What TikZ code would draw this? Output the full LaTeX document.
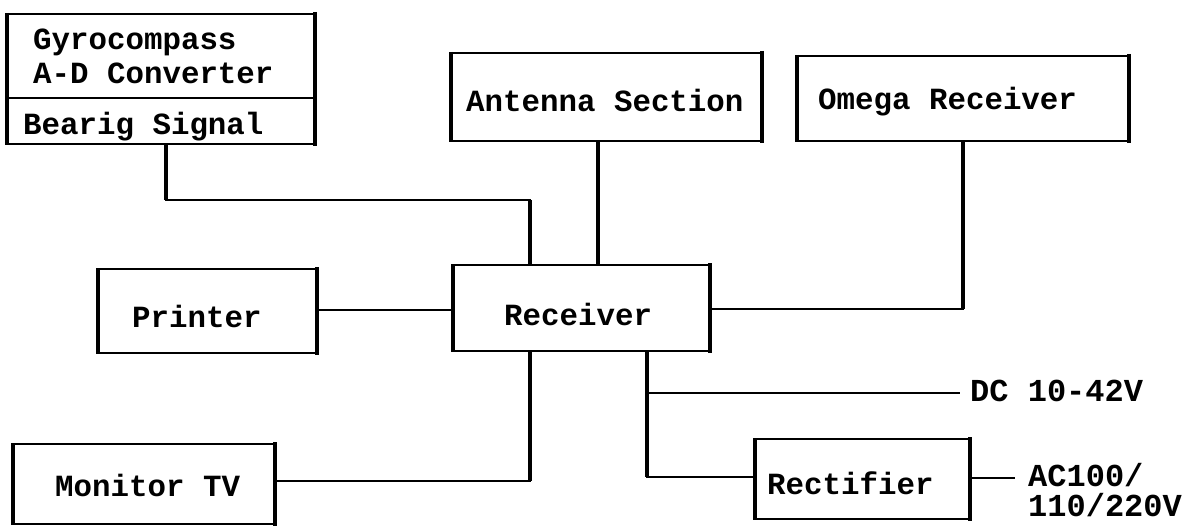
\documentclass[tikz,border=0pt]{standalone}
\usepackage{fontspec}
\setmonofont{Liberation Mono}
\usetikzlibrary{calc}
\begin{document}
\begin{tikzpicture}[x=1pt,y=-1pt,
  box/.style={draw,line width=2pt,rectangle,inner sep=0pt,anchor=north west},
  vedge/.style={line width=3.6pt,line cap=butt,shorten <=-1pt,shorten >=-1pt},
  txt/.style={inner sep=0pt,anchor=west,text height=20pt,text depth=0pt,
    font=\ttfamily\bfseries\fontsize{30.8}{33}\selectfont},
  lbl/.style={txt,font=\ttfamily\bfseries\fontsize{32}{35}\selectfont},
  conn/.style={line width=1.5pt},
  vconn/.style={line width=3.4pt}]
\useasboundingbox (0,0) rectangle (1195,527);
% boxes (left, top) with width/height
\node[box,minimum width=306pt,minimum height=130pt] (gyro) at (7,13) {};
\node[box,minimum width=309pt,minimum height=88pt] (antenna) at (451,52) {};
\node[box,minimum width=330pt,minimum height=85pt] (omega) at (797,55) {};
\node[box,minimum width=217pt,minimum height=84pt] (printer) at (98,268) {};
\node[box,minimum width=255pt,minimum height=86pt] (receiver) at (453,264) {};
\node[box,minimum width=260pt,minimum height=80pt] (monitor) at (13,443) {};
\node[box,minimum width=213pt,minimum height=80pt] (rectifier) at (755,438) {};
\foreach \n in {gyro,antenna,omega,printer,receiver,monitor,rectifier}
  \draw[vedge] (\n.north west) -- (\n.south west) (\n.north east) -- (\n.south east);
% divider of gyro box
\coordinate (gdiv) at (0,98);
\draw[line width=2pt] (gyro.west |- gdiv) -- (gyro.east |- gdiv);
% texts
\node[txt] (gyroA) at (33,40) {Gyrocompass};
\node[txt] (gyroB) at (33,74) {A-D Converter};
\node[txt] (gyroC) at (23,125) {Bearig Signal};
\node[txt] (antT) at (466,101) {Antenna Section};
\node[txt] (omegaT) at (818,100) {Omega Receiver};
\node[txt] (printT) at (132,317) {Printer};
\node[txt] (recT) at (504,315) {Receiver};
\node[txt] (monT) at (55,486) {Monitor TV};
\node[txt] (rectT) at (767,484) {Rectifier};
\node[lbl] (dcT) at (970,391) {DC 10-42V};
\node[lbl] (acT) at (1028,476) {AC100/};
\node[lbl] (acT2) at (1028,506) {110/220V};
% connector coordinates
\coordinate (g1) at (166,200);
\coordinate (g2) at (530,200);
\coordinate (a1) at (598,0);
\coordinate (o1) at (963,309);
\coordinate (p1) at (0,310);
\coordinate (m1) at (530,481);
\coordinate (r1) at (647,477);
\coordinate (d1) at (647,393);
\coordinate (d2) at (960,393);
\coordinate (e1) at (0,478);
\coordinate (e2) at (1015,478);
% connectors (thin horizontals)
\draw[conn] (gyro.south -| g1) -- (g1) -- (g2) -- (receiver.north -| g2);
\draw[conn] (omega.south -| o1) -- (o1) -- (receiver.east |- o1);
\draw[conn] (printer.east |- p1) -- (receiver.west |- p1);
\draw[conn] (monitor.east |- m1) -- (m1) -- (receiver.south -| m1);
\draw[conn] (receiver.south -| r1) -- (r1) -- (rectifier.west |- r1);
\draw[conn] (d1) -- (d2);
\draw[conn] (rectifier.east |- e1) -- (e2);
% thick vertical segments
\draw[vconn] (gyro.south -| g1) -- (g1);
\draw[vconn] (g2) -- (receiver.north -| g2);
\draw[vconn] (antenna.south -| a1) -- (receiver.north -| a1);
\draw[vconn] (omega.south -| o1) -- (o1);
\draw[vconn] (m1) -- (receiver.south -| m1);
\draw[vconn] (receiver.south -| r1) -- (r1);
\end{tikzpicture}
\end{document}
